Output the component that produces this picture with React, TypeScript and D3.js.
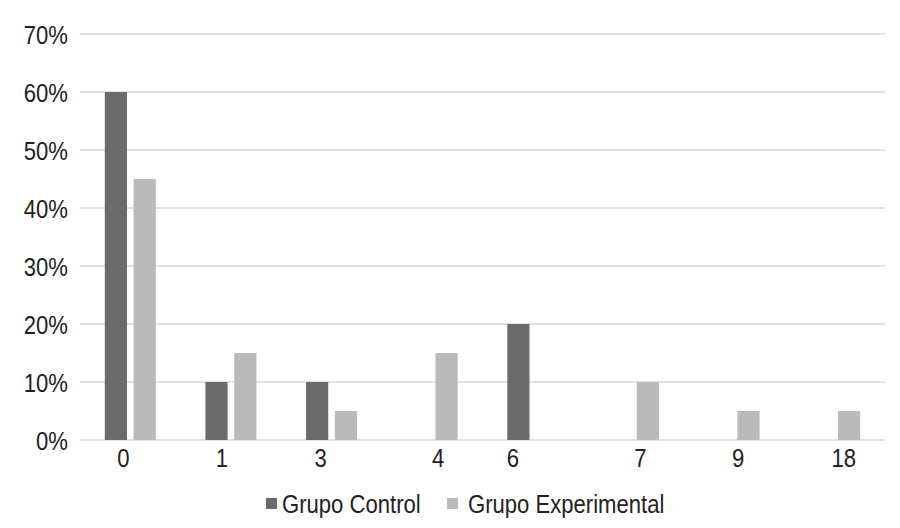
import { useEffect, useRef } from 'react'
import * as d3 from 'd3'

const categories = ['0', '1', '3', '4', '6', '7', '9', '18']
const seriesNames = ['Grupo Control', 'Grupo Experimental']
const controlValues = [60, 10, 10, 0, 20, 0, 0, 0]
const experimentalValues = [45, 15, 5, 15, 0, 10, 5, 5]
const yTicks = [0, 10, 20, 30, 40, 50, 60, 70]

// the source figure's category labels were hand-placed off the band centres
const tickNudge = [-7, -9, -11, 6, -20, 7, 4, 9]

const colors = ['#6b6b6b', '#bababa']
const FONT = '"Liberation Sans", Arial, sans-serif'
const SQUEEZE = 0.85 // reference uses a condensed face

export default function App() {
  const svgRef = useRef<SVGSVGElement>(null)

  useEffect(() => {
    if (!svgRef.current) return
    const W = 900
    const H = 528
    const margin = { top: 34, right: 15, bottom: 88, left: 80 }

    const svg = d3.select(svgRef.current)
    svg.selectAll('*').remove()

    const x = d3.scaleBand<string>()
      .domain(categories)
      .range([margin.left, W - margin.right])
      .padding(0)

    const bw = x.bandwidth()
    const xInner = d3.scaleBand<string>()
      .domain(seriesNames)
      .range([bw / 2 - 25.5, bw / 2 + 25.5])
      .paddingInner(0.23)

    const y = d3.scaleLinear()
      .domain([0, 70])
      .range([H - margin.bottom, margin.top])

    const label = (sel: d3.Selection<any, any, any, any>) =>
      sel
        .attr('font-family', FONT)
        .attr('font-size', 26)
        .attr('fill', '#222')

    // Grid
    svg.append('g')
      .selectAll('line')
      .data(yTicks)
      .enter()
      .append('line')
      .attr('x1', margin.left)
      .attr('x2', W - margin.right)
      .attr('y1', d => y(d))
      .attr('y2', d => y(d))
      .attr('stroke', '#d9d9d9')
      .attr('stroke-width', 1.5)

    // Y labels
    svg.append('g')
      .selectAll('text')
      .data(yTicks)
      .enter()
      .append('text')
      .attr('transform', d => `translate(68,${y(d) + 9.5}) scale(${SQUEEZE},1)`)
      .attr('text-anchor', 'end')
      .call(label)
      .text(d => `${d}%`)

    // Bars
    const rows = categories.map((c, i) => ({
      cat: c,
      vals: [
        { name: seriesNames[0], v: controlValues[i], color: colors[0] },
        { name: seriesNames[1], v: experimentalValues[i], color: colors[1] },
      ],
    }))

    const groups = svg.append('g')
      .selectAll('g')
      .data(rows)
      .enter()
      .append('g')
      .attr('transform', d => `translate(${x(d.cat)},0)`)

    groups.selectAll('rect')
      .data(d => d.vals.filter(v => v.v > 0))
      .enter()
      .append('rect')
      .attr('x', d => xInner(d.name)!)
      .attr('width', xInner.bandwidth())
      .attr('y', d => y(d.v))
      .attr('height', d => y(0) - y(d.v))
      .attr('fill', d => d.color)

    // X labels
    svg.append('g')
      .selectAll('text')
      .data(categories)
      .enter()
      .append('text')
      .attr('transform', (d, i) =>
        `translate(${x(d)! + bw / 2 + tickNudge[i]},467) scale(${SQUEEZE},1)`)
      .attr('text-anchor', 'middle')
      .call(label)
      .text(d => d)

    // Legend
    const legendX = [266, 447]
    const legend = svg.append('g')
      .selectAll('g')
      .data(seriesNames)
      .enter()
      .append('g')
      .attr('transform', (_d, i) => `translate(${legendX[i]},498)`)

    legend.append('rect')
      .attr('width', 11)
      .attr('height', 11)
      .attr('fill', (_d, i) => colors[i])

    legend.append('text')
      .attr('transform', (_d, i) => `translate(${i === 0 ? 16 : 21},15) scale(${SQUEEZE},1)`)
      .call(label)
      .text(d => d)
  }, [])

  return (
    <svg
      ref={svgRef}
      width={900}
      height={528}
      style={{ position: 'fixed', top: 0, left: 0, background: '#fff' }}
    />
  )
}
